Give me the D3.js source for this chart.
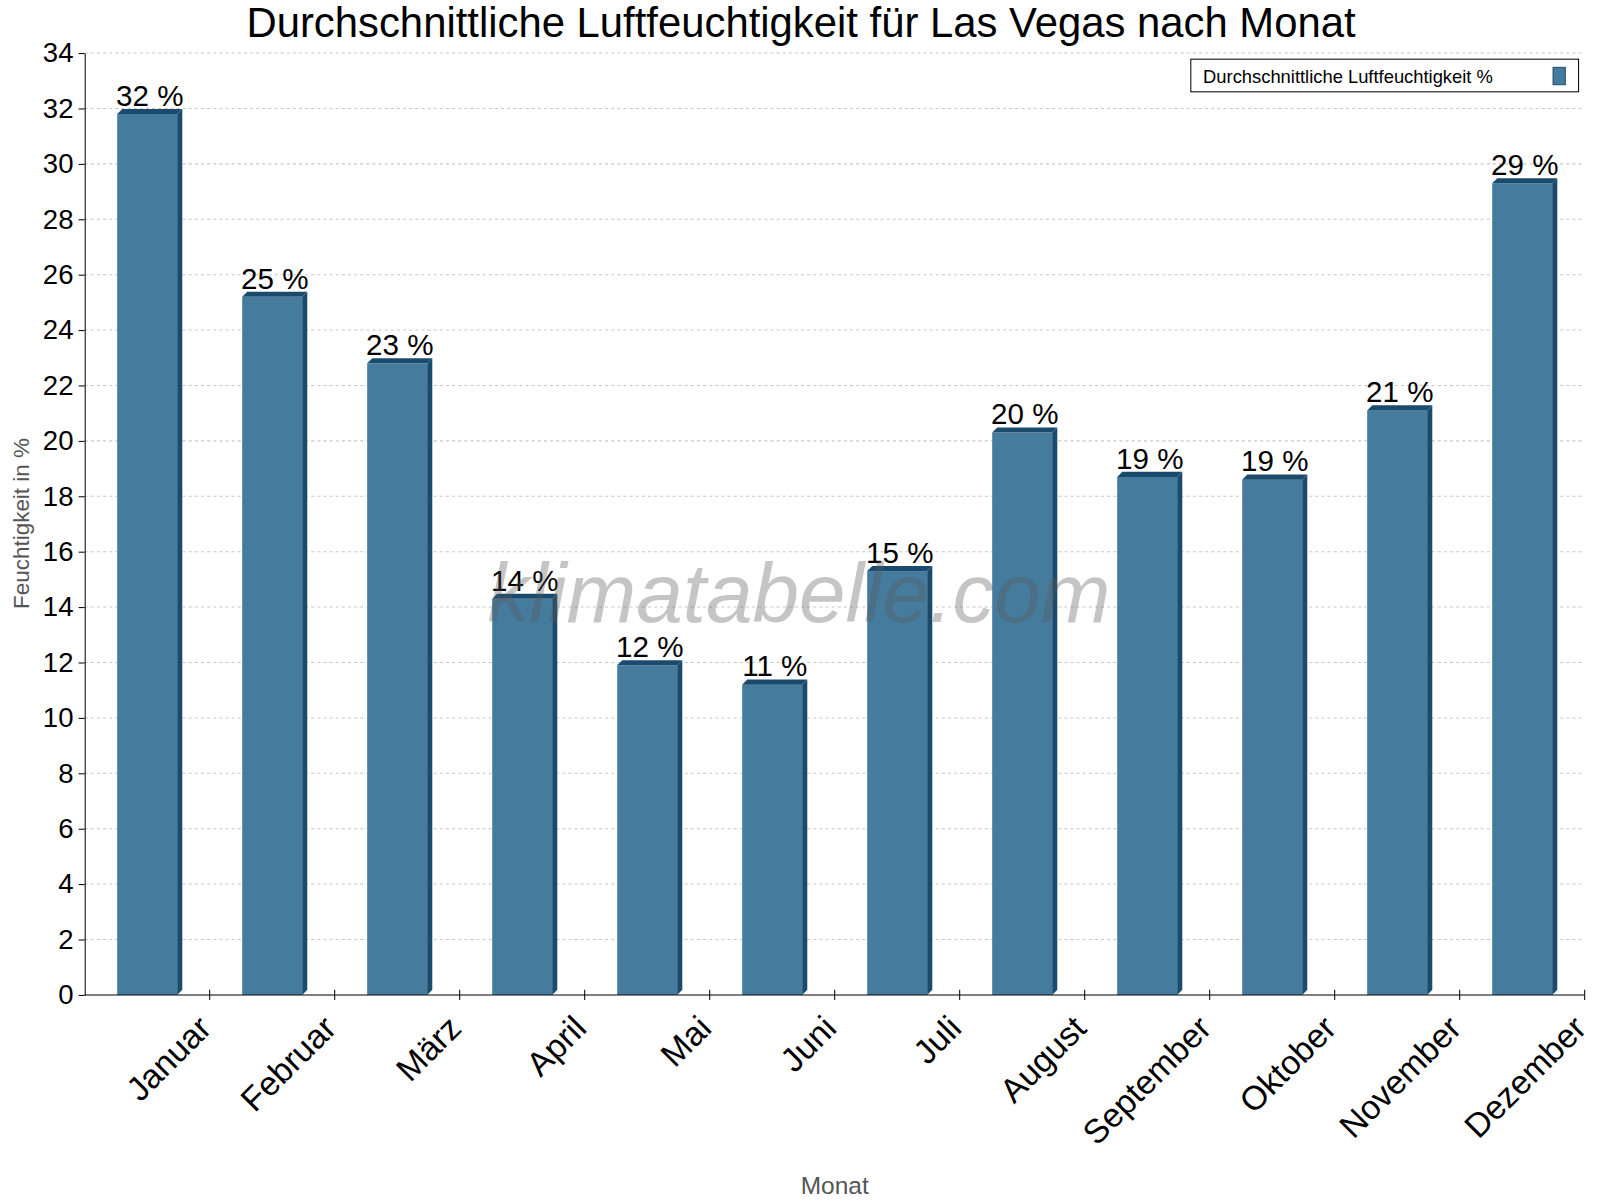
<!DOCTYPE html>
<html><head><meta charset="utf-8">
<script src="https://cdn.jsdelivr.net/npm/d3@7"></script>
<style>body{margin:0;background:#fff}text{font-family:Arial,"Liberation Sans",sans-serif}</style>
</head><body><svg id="chart" width="1600" height="1200"></svg>
<script>
// data
const months = ["Januar","Februar","März","April","Mai","Juni","Juli","August","September","Oktober","November","Dezember"];
const humidity = [31.8, 25.2, 22.8, 14.3, 11.9, 11.2, 15.3, 20.3, 18.7, 18.6, 21.1, 29.3];
const labels = ["32 %","25 %","23 %","14 %","12 %","11 %","15 %","20 %","19 %","19 %","21 %","29 %"];
const yTicks = d3.range(0, 35, 2);

// layout measured on a 1568 wide copy, scaled up to 1600
const svg = d3.select("#chart").append("g").attr("transform", `scale(${1600 / 1568})`);
const m = {left: 83, right: 1553, top: 52, bottom: 975};
const depth = 5;

const x = d3.scaleBand().domain(months).range([m.left, m.right]).paddingInner(0.52).paddingOuter(0.26);
const band = d3.scaleBand().domain(months).range([m.left, m.right]);
const y = d3.scaleLinear().domain([0, 34]).range([m.bottom, m.top]);

// grid
svg.append("g").selectAll("line").data(yTicks.slice(1)).enter().append("line")
  .attr("x1", m.left).attr("x2", m.right)
  .attr("y1", d => y(d)).attr("y2", d => y(d))
  .attr("stroke", "#c8c8c8").attr("stroke-dasharray", "3,3");

// bars
const bars = svg.append("g").selectAll("g").data(months).enter().append("g");
bars.append("rect")
  .attr("x", d => x(d)).attr("y", (d, i) => y(humidity[i]))
  .attr("width", x.bandwidth()).attr("height", (d, i) => m.bottom - y(humidity[i]))
  .attr("fill", "#457b9d");
bars.append("polygon").attr("fill", "#1b4b6c").attr("points", (d, i) => {
  const x0 = x(d), w = x.bandwidth(), t = y(humidity[i]);
  return [[x0, t], [x0 + depth, t - depth], [x0 + w + depth, t - depth], [x0 + w, t]].join(" ");
});
bars.append("polygon").attr("fill", "#1b4b6c").attr("points", (d, i) => {
  const x0 = x(d) + x.bandwidth(), t = y(humidity[i]);
  return [[x0, t], [x0 + depth, t - depth], [x0 + depth, m.bottom - depth], [x0, m.bottom]].join(" ");
});

// watermark
svg.append("text").attr("x", 783).attr("y", 610).attr("text-anchor", "middle")
  .attr("font-size", 82).attr("font-style", "italic").attr("fill", "rgba(90,90,90,0.35)")
  .text("klimatabelle.com");

bars.append("text")
  .attr("x", d => x(d) + x.bandwidth() / 2 + depth / 2)
  .attr("y", (d, i) => y(humidity[i]) - 8)
  .attr("text-anchor", "middle").attr("font-size", 29).text((d, i) => labels[i]);

// axes
svg.append("g").attr("transform", `translate(${m.left},0)`)
  .call(d3.axisLeft(y).tickValues(yTicks).tickSize(6).tickSizeOuter(0))
  .call(g => g.select(".domain").attr("stroke", "#000"))
  .call(g => g.selectAll("text").attr("font-size", 27).attr("fill", "#000").attr("dx", -2));

const xa = svg.append("g").attr("transform", `translate(0,${m.bottom})`);
xa.append("line").attr("x1", m.left).attr("x2", m.right).attr("stroke", "#000");
xa.selectAll("line.t").data(months).enter().append("line").attr("class", "t")
  .attr("x1", d => band(d) + band.bandwidth()).attr("x2", d => band(d) + band.bandwidth())
  .attr("y1", -5).attr("y2", 5).attr("stroke", "#000");
xa.selectAll("text").data(months).enter().append("text")
  .attr("transform", d => `translate(${band(d) + band.bandwidth() / 2 + 46},16) rotate(-45)`)
  .attr("text-anchor", "end").attr("dy", "0.8em").attr("font-size", 33).text(d => d);

// axis titles
svg.append("text").attr("x", 818).attr("y", 1170).attr("text-anchor", "middle")
  .attr("font-size", 24).attr("fill", "#555").text("Monat");
svg.append("text").attr("transform", "translate(28,513) rotate(-90)").attr("text-anchor", "middle")
  .attr("font-size", 22).attr("fill", "#555").text("Feuchtigkeit in %");

// title
svg.append("text").attr("x", 785).attr("y", 36).attr("text-anchor", "middle")
  .attr("font-size", 41).text("Durchschnittliche Luftfeuchtigkeit für Las Vegas nach Monat");

// legend
const lg = svg.append("g").attr("transform", "translate(1167,58)");
lg.append("rect").attr("width", 380).attr("height", 32).attr("fill", "#fff").attr("stroke", "#000");
lg.append("text").attr("x", 12).attr("y", 23).attr("font-size", 18).text("Durchschnittliche Luftfeuchtigkeit %");
lg.append("rect").attr("x", 355).attr("y", 8).attr("width", 12).attr("height", 17)
  .attr("fill", "#457b9d").attr("stroke", "#1b4b6c");
</script></body></html>
